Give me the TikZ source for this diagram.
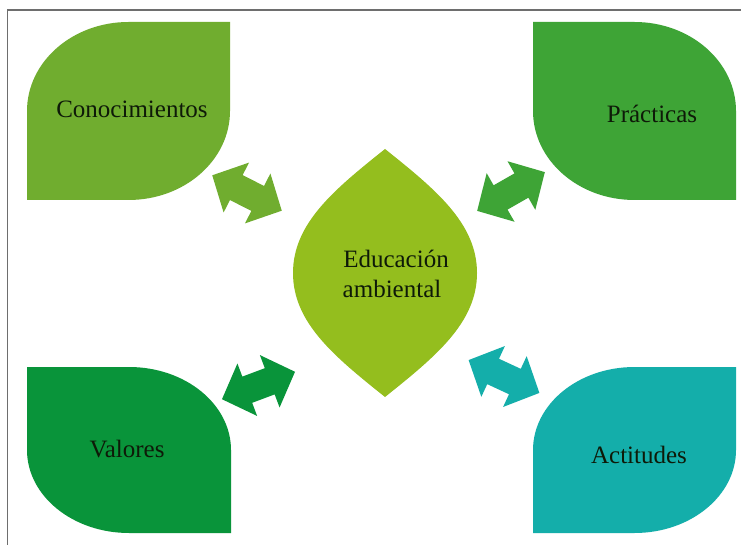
\documentclass[tikz,border=0pt]{standalone}
\usepackage{fontspec}
\setmainfont{Liberation Serif}
\definecolor{cconoc}{RGB}{112,173,47}
\definecolor{cpract}{RGB}{62,164,54}
\definecolor{cvalor}{RGB}{9,148,58}
\definecolor{cactit}{RGB}{20,174,170}
\definecolor{ccenter}{RGB}{148,190,30}
\definecolor{ctext}{RGB}{14,26,8}
\definecolor{cframe}{RGB}{110,110,110}
\tikzset{
  lbl/.style={text=ctext, font=\fontsize{25}{29}\selectfont, inner sep=0pt},
  framebox/.style={draw=cframe, line width=1.4pt},
}
\newcommand{\dblarrowshape}[4]{%
  \fill[#4, shift={(#1,#2)}, rotate=#3]
    (-39,0) -- (-12,-28) -- (-12,-14) -- (12,-14) -- (12,-28) -- (39,0)
    -- (12,28) -- (12,14) -- (-12,14) -- (-12,28) -- cycle;}
\begin{document}
\begin{tikzpicture}[x=1pt,y=-1pt]
\useasboundingbox (0,0) rectangle (741,545);
\fill[white] (0,0) rectangle (741,545);
\draw[framebox] (742,10) -- (7.5,10) -- (7.5,546);

% leaves
\fill[cconoc] (27,200) -- (27,111) .. controls (27,61.85) and (72.44,22) .. (128.5,22)
  -- (230,22) -- (230,111) .. controls (230,160.15) and (184.56,200) .. (128.5,200) -- cycle;
\fill[cpract] (533,22) -- (634.5,22) .. controls (690.56,22) and (736,61.85) .. (736,111)
  -- (736,200) -- (634.5,200) .. controls (578.44,200) and (533,160.15) .. (533,111) -- cycle;
\fill[cvalor] (27,367) -- (129,367) .. controls (185.3,367) and (231,404.2) .. (231,450)
  -- (231,533) -- (129,533) .. controls (72.7,533) and (27,495.8) .. (27,450) -- cycle;
\fill[cactit] (533,533) -- (533,450) .. controls (533,404.2) and (578.44,367) .. (634.5,367)
  -- (736,367) -- (736,450) .. controls (736,495.8) and (690.56,533) .. (634.5,533) -- cycle;

% center shape
\fill[ccenter, shift={(385,273)}] (0,-124) .. controls (-50,-84) and (-92,-50) .. (-92,0)
  .. controls (-92,50) and (-50,84) .. (0,124)
  .. controls (50,84) and (92,50) .. (92,0)
  .. controls (92,-50) and (50,-84) .. (0,-124) -- cycle;

% arrows
\dblarrowshape{247}{193}{-27}{cconoc}
\dblarrowshape{511}{191.5}{29.8}{cpract}
\dblarrowshape{258.5}{385.5}{20.6}{cvalor}
\dblarrowshape{504}{376.5}{-24.9}{cactit}

% labels
\node[lbl, anchor=base] (conoc) at (132,118) {Conocimientos};
\node[lbl, anchor=base] (pract) at (652,123) {Prácticas};
\node[lbl, anchor=base] (valor) at (127,457) {Valores};
\node[lbl, anchor=base] (actit) at (639,463) {Actitudes};
\node[lbl, anchor=base] (edu1) at (396,268) {Educación};
\node[lbl, anchor=base] (edu2) at (392,297) {ambiental};
\end{tikzpicture}
\end{document}
